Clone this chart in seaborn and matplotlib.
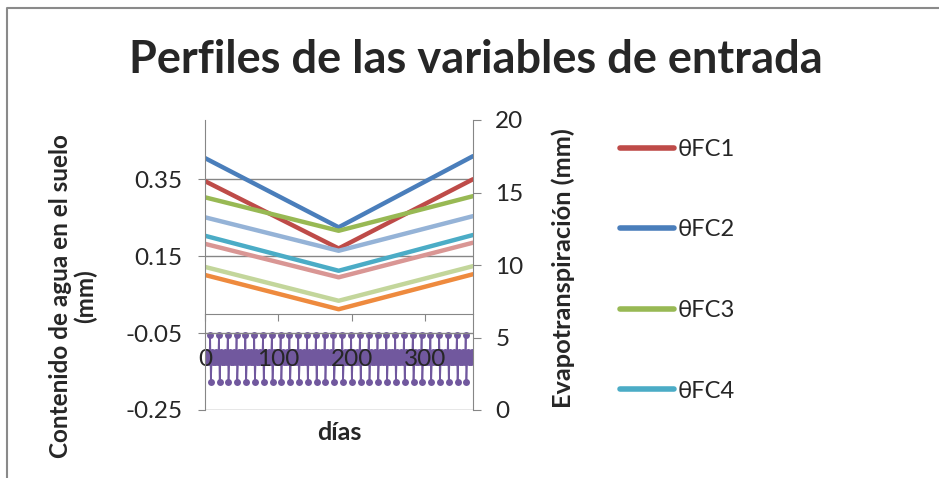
import numpy as np
import pandas as pd
import matplotlib
matplotlib.use('Agg')
import matplotlib.pyplot as plt
import seaborn as sns
from matplotlib.lines import Line2D

# perfiles de humedad (eje izquierdo): inicio, minimo a mitad de año, fin
dias_perfil = [0, 182, 365]
series_theta = ['θFC1', 'θFC2', 'θFC3', 'θFC4', 'θPMP1', 'θPMP2', 'θPMP3', 'θPMP4']
theta_fc1 = [0.345, 0.170, 0.350]
theta_fc2 = [0.405, 0.225, 0.410]
theta_fc3 = [0.303, 0.216, 0.306]
theta_fc4 = [0.203, 0.112, 0.205]
theta_pmp1 = [0.251, 0.164, 0.254]
theta_pmp2 = [0.182, 0.095, 0.185]
theta_pmp3 = [0.122, 0.034, 0.124]
theta_pmp4 = [0.101, 0.012, 0.103]
colores = ['#BE4B48', '#4A7EBB', '#98B954', '#4BACC6',
           '#95B3D7', '#D99694', '#C3D69B', '#EE8A3E']

# evapotranspiracion diaria (eje derecho): ciclo de 12 dias que se repite
et_ciclo = [3.9, 3.3, 4.0, 3.4, 3.9, 3.3, 5.2, 1.9, 3.4, 4.0, 3.3, 3.9]
dias_et = np.arange(1, 366)
et = np.resize(et_ciclo, len(dias_et))

valores = [theta_fc1, theta_fc2, theta_fc3, theta_fc4,
           theta_pmp1, theta_pmp2, theta_pmp3, theta_pmp4]
df = pd.DataFrame({
    'dia': dias_perfil * len(series_theta),
    'valor': np.concatenate(valores),
    'serie': np.repeat(series_theta, len(dias_perfil)),
})

sns.set_style('white')
plt.rcParams['font.family'] = ['Lato', 'DejaVu Sans']
gris = '#868686'

fig = plt.figure(figsize=(9.39, 4.78), dpi=100)
ax = fig.add_axes([205 / 939, 1 - 410 / 478, 268 / 939, 290 / 478])
ax2 = ax.twinx()
ax.set_zorder(ax2.get_zorder() + 1)
ax.patch.set_visible(False)

sns.lineplot(data=df, x='dia', y='valor', hue='serie', hue_order=series_theta,
             palette=colores, lw=3.2, ax=ax, legend=False)
sns.lineplot(x=dias_et, y=et, ax=ax2, color='#71589E', lw=1.2,
             marker='o', markersize=5, markeredgewidth=0)

ax.set_xlim(0, 365)
ax.set_ylim(-0.25, 0.504)
ax.set_yticks([-0.25, -0.05, 0.15, 0.35])
ax.set_yticklabels(['-0.25', '-0.05', '0.15', '0.35'])
ax.set_xticks([0, 100, 200, 300])
ax.yaxis.grid(True, color=gris, lw=1)
ax2.set_ylim(0, 20)
ax2.set_yticks([0, 5, 10, 15, 20])

ax.spines['bottom'].set_position(('data', 0))
for s in ['top', 'right']:
    ax.spines[s].set_visible(False)
for s in ['top', 'bottom', 'left']:
    ax2.spines[s].set_visible(False)
for s in ['left', 'bottom']:
    ax.spines[s].set_color(gris)
ax2.spines['right'].set_color(gris)

ax.tick_params(axis='y', direction='out', length=5, color=gris, pad=11, labelsize=17.5, left=True)
ax.tick_params(axis='x', direction='out', length=5, color=gris, pad=20, labelsize=17.5, bottom=True)
ax2.tick_params(axis='y', direction='out', length=6, color=gris, pad=10, labelsize=17.5, right=True)
ax.set_xlabel('')
ax.set_ylabel('')
ax2.set_ylabel('')

fig.text(476 / 939, 1 - 60 / 478, 'Perfiles de las variables de entrada',
         ha='center', va='center', fontsize=32.5, fontweight='bold')
fig.text(73 / 939, 1 - 296 / 478, 'Contenido de agua en el suelo\n(mm)',
         ha='center', va='center', rotation=90, fontsize=17.5,
         fontweight='bold', multialignment='center', linespacing=1.05)
fig.text(563 / 939, 1 - 268 / 478, 'Evapotranspiración (mm)',
         ha='center', va='center', rotation=90, fontsize=18.3, fontweight='bold')
fig.text(339 / 939, 1 - 433 / 478, 'días', ha='center', va='center',
         fontsize=18, fontweight='bold')

handles = [Line2D([0], [0], color=c, lw=4, solid_capstyle='round') for c in colores[:4]]
fig.legend(handles, series_theta[:4], loc='upper left',
           bbox_to_anchor=(620 / 939, 1 - 139 / 478), frameon=False,
           fontsize=17, handlelength=2.3, handletextpad=0.15,
           labelspacing=2.52, borderpad=0, borderaxespad=0)

fig.add_artist(Line2D([7 / 939, 7 / 939, 1.0], [0.0, 1 - 8 / 478, 1 - 8 / 478],
                      transform=fig.transFigure, color='#8A8A8A', lw=1.5))

fig.savefig('out.png', dpi=100)
